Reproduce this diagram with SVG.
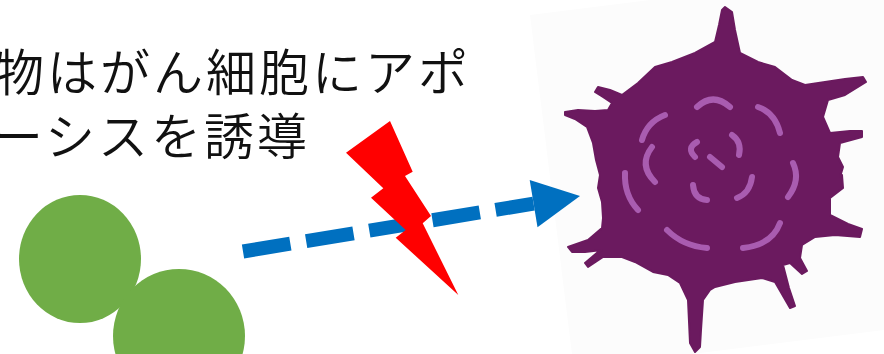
<svg xmlns="http://www.w3.org/2000/svg" width="884" height="354" viewBox="0 0 884 354">
  <style>
    .caption { font-family: "Noto Sans CJK JP", "Noto Sans", sans-serif; font-size: 50px; font-weight: 350; fill: #111; letter-spacing: 3px; }
    .mark { fill: none; stroke: #a95cb0; stroke-width: 6; stroke-linecap: round; stroke-linejoin: round; }
  </style>

  <rect width="884" height="354" fill="#ffffff"/>

  <!-- Caption (continues past the left edge) -->
  <g id="caption">
    <text class="caption" x="471" y="91" text-anchor="end">物はがん細胞にアポ</text>
    <text class="caption" x="310" y="155" text-anchor="end">ーシスを誘導</text>
  </g>

  <!-- Healthy cells -->
  <g id="green-cells" fill="#70ad47">
    <ellipse cx="80" cy="259" rx="61" ry="64"/>
    <ellipse cx="179" cy="336" rx="66" ry="67"/>
  </g>

  <!-- Apoptotic cancer cell on its slightly tilted backdrop -->
  <g id="cancer-cell">
    <polygon points="530,15 650,0 884,0 884,330 692,354 572,354" fill="#fcfcfc"/>
    <path fill="#6b1a5f" stroke="#6b1a5f" stroke-width="2" stroke-linejoin="round"
      d="M722,10 L725,7 L732,12 L735,30 L740,53 L758,62 L775,67 L792,80 L805,85 L825,82
         L845,79 L863,77 L866,82 L845,95 L828,100 L823,117 L830,133 L850,131 L862,131 L862,137
         L840,143 L838,157 L843,167 L840,177 L842,175 L843,188 L830,198 L830,215 L848,224
         L862,229 L860,237 L835,235 L815,237 L802,245 L800,258 L807,271 L802,274 L790,263
         L783,265 L789,288 L795,306 L790,308 L775,282 L762,278 L735,282 L715,287 L710,290
         L703,300 L701,330 L700,347 L695,352 L690,343 L688,300 L680,283 L668,275 L653,272
         L635,262 L622,257 L603,257 L588,267 L585,263 L598,252 L602,250 L585,252 L572,252
         L568,247 L588,240 L602,228 L603,218 L602,202 L598,188 L600,175 L596,160 L593,143
         L587,127 L575,119 L565,115 L565,112 L578,110 L595,111 L608,110 L612,103 L603,97
         L595,92 L598,87 L610,90 L622,95 L638,83 L655,67 L672,62 L695,53 L715,42 L719,25 Z"/>
    <g class="mark">
      <path d="M697,107 Q713,92 730,107"/>
      <path d="M758,107 Q775,113 780,133"/>
      <path d="M665,115 Q647,122 642,140"/>
      <path d="M652,147 Q638,165 655,182"/>
      <path d="M625,173 Q624,195 638,210"/>
      <path d="M697,142 Q686,148 695,157"/>
      <path d="M732,135 Q742,142 739,155"/>
      <path d="M710,157 L722,167"/>
      <path d="M693,185 Q694,199 707,200"/>
      <path d="M752,177 Q750,193 737,198"/>
      <path d="M793,163 Q801,180 788,197"/>
      <path d="M667,230 Q683,246 707,248"/>
      <path d="M743,248 Q772,245 780,223"/>
    </g>
  </g>

  <!-- Connectors -->
  <g id="connectors">
    <line x1="243" y1="251.5" x2="533.6" y2="203.6" stroke="#0070c0" stroke-width="14" stroke-dasharray="48 16"/>
    <polygon points="580,196 537.5,227.3 529.7,179.9" fill="#0070c0"/>
  </g>

  <!-- Lightning bolt -->
  <g id="bolt">
    <polygon fill="#ff0000" points="390,121 412.7,171.7 405,176 431,216 422.7,223.3 458.3,295 395.7,237.7 405.7,230 371,197.7 383.3,188.3 346,152.7"/>
  </g>
</svg>
